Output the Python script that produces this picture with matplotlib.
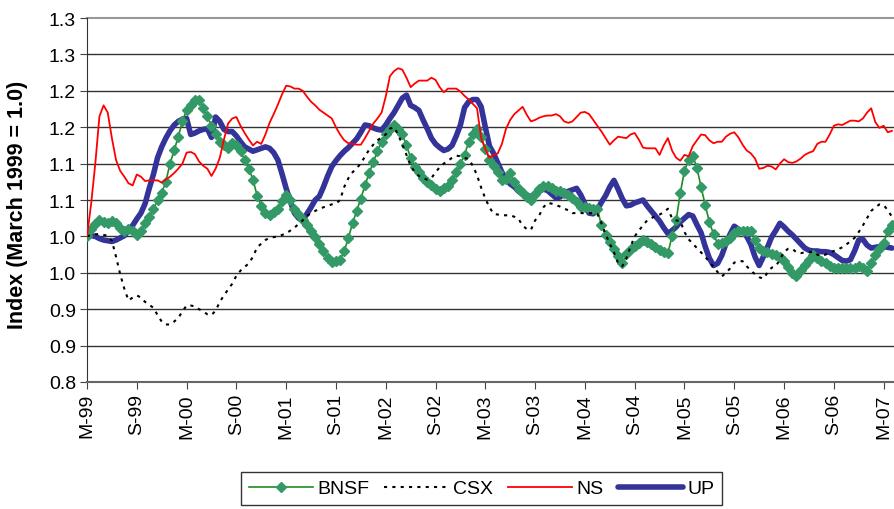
import numpy as np
import matplotlib
matplotlib.use("Agg")
import matplotlib.pyplot as plt
from matplotlib.ticker import FixedLocator, FixedFormatter

# x index = half-month steps, 0 = March 1999
bnsf = [1.000, 1.010, 1.017, 1.022, 1.020, 1.018, 1.021, 1.018, 1.012, 1.007,
        1.010, 1.008, 1.002, 1.008, 1.018, 1.027, 1.037, 1.050, 1.060, 1.075,
        1.100, 1.118, 1.137, 1.158, 1.174, 1.181, 1.187, 1.188, 1.176, 1.165,
        1.152, 1.141, 1.129, 1.125, 1.121, 1.128, 1.125, 1.117, 1.105, 1.093,
        1.078, 1.056, 1.042, 1.032, 1.030, 1.034, 1.038, 1.048, 1.057, 1.050,
        1.037, 1.030, 1.023, 1.015, 1.007, 0.999, 0.990, 0.980, 0.970, 0.965,
        0.966, 0.968, 0.980, 0.998, 1.018, 1.035, 1.052, 1.070, 1.087, 1.102,
        1.117, 1.130, 1.140, 1.148, 1.153, 1.147, 1.140, 1.125, 1.108, 1.096,
        1.088, 1.080, 1.075, 1.070, 1.065, 1.063, 1.066, 1.069, 1.077, 1.088,
        1.100, 1.112, 1.130, 1.140, 1.148, 1.137, 1.120, 1.105, 1.097, 1.089,
        1.078, 1.079, 1.087, 1.075, 1.065, 1.060, 1.054, 1.050, 1.058, 1.065,
        1.069, 1.069, 1.066, 1.063, 1.062, 1.060, 1.057, 1.053, 1.047, 1.041,
        1.040, 1.039, 1.038, 1.038, 1.015, 1.002, 0.992, 0.983, 0.973, 0.963,
        0.976, 0.983, 0.987, 0.991, 0.995, 0.992, 0.989, 0.985, 0.981, 0.978,
        0.977, 1.000, 1.022, 1.060, 1.090, 1.105, 1.111, 1.094, 1.068, 1.043,
        1.020, 1.003, 0.990, 0.991, 0.993, 0.998, 1.004, 1.007, 1.008, 1.008,
        1.008, 0.995, 0.984, 0.980, 0.978, 0.976, 0.974, 0.972, 0.966, 0.958,
        0.950, 0.946, 0.954, 0.961, 0.968, 0.974, 0.970, 0.966, 0.963, 0.960,
        0.957, 0.956, 0.956, 0.956, 0.956, 0.957, 0.959, 0.957, 0.953, 0.963,
        0.974, 0.983, 0.991, 1.007, 1.016]

csx = [1.000, 1.002, 1.003, 1.003, 1.002, 1.001, 0.994, 0.972, 0.948, 0.928,
       0.912, 0.916, 0.919, 0.916, 0.910, 0.906, 0.902, 0.892, 0.883, 0.879,
       0.879, 0.883, 0.888, 0.897, 0.905, 0.905, 0.904, 0.900, 0.897, 0.893,
       0.892, 0.898, 0.910, 0.919, 0.927, 0.935, 0.946, 0.953, 0.958, 0.963,
       0.972, 0.985, 0.990, 0.995, 0.998, 0.999, 1.000, 1.002, 1.004, 1.008,
       1.012, 1.017, 1.022, 1.028, 1.032, 1.035, 1.038, 1.040, 1.042, 1.044,
       1.045, 1.050, 1.068, 1.080, 1.088, 1.094, 1.100, 1.110, 1.119, 1.126,
       1.132, 1.136, 1.140, 1.148, 1.150, 1.140, 1.126, 1.112, 1.097, 1.088,
       1.083, 1.080, 1.078, 1.080, 1.088, 1.095, 1.100, 1.104, 1.108, 1.111,
       1.110, 1.108, 1.106, 1.097, 1.084, 1.067, 1.052, 1.040, 1.031, 1.030,
       1.029, 1.029, 1.029, 1.027, 1.024, 1.015, 1.010, 1.009, 1.022, 1.029,
       1.040, 1.046, 1.045, 1.043, 1.041, 1.038, 1.036, 1.032, 1.032, 1.032,
       1.032, 1.032, 1.032, 1.031, 1.018, 1.003, 0.990, 0.978, 0.963, 0.959,
       0.970, 0.986, 1.000, 1.008, 1.015, 1.022, 1.025, 1.028, 1.030, 1.033,
       1.038, 1.025, 1.022, 1.021, 1.006, 0.996, 0.990, 0.984, 0.978, 0.972,
       0.965, 0.958, 0.951, 0.945, 0.950, 0.956, 0.964, 0.966, 0.966, 0.959,
       0.953, 0.948, 0.944, 0.942, 0.950, 0.957, 0.959, 0.968, 0.979, 0.983,
       0.983, 0.978, 0.977, 0.978, 0.978, 0.979, 0.975, 0.973, 0.975, 0.978,
       0.980, 0.982, 0.985, 0.989, 0.993, 0.998, 1.006, 1.015, 1.025, 1.035,
       1.040, 1.044, 1.043, 1.036, 1.027]

ns = [1.000, 1.045, 1.100, 1.165, 1.180, 1.170, 1.135, 1.105, 1.090, 1.082,
      1.073, 1.070, 1.085, 1.082, 1.076, 1.077, 1.077, 1.077, 1.074, 1.078,
      1.082, 1.087, 1.093, 1.100, 1.115, 1.116, 1.113, 1.103, 1.097, 1.093,
      1.083, 1.093, 1.108, 1.133, 1.155, 1.162, 1.164, 1.152, 1.142, 1.133,
      1.125, 1.130, 1.127, 1.140, 1.156, 1.168, 1.181, 1.195, 1.207, 1.206,
      1.203, 1.203, 1.200, 1.192, 1.185, 1.180, 1.174, 1.170, 1.166, 1.162,
      1.150, 1.140, 1.132, 1.128, 1.127, 1.126, 1.126, 1.135, 1.145, 1.155,
      1.162, 1.170, 1.192, 1.220, 1.227, 1.231, 1.229, 1.218, 1.205, 1.210,
      1.214, 1.214, 1.214, 1.218, 1.215, 1.205, 1.198, 1.203, 1.203, 1.203,
      1.199, 1.193, 1.188, 1.182, 1.176, 1.135, 1.120, 1.108, 1.112, 1.114,
      1.127, 1.148, 1.160, 1.168, 1.173, 1.178, 1.167, 1.158, 1.160, 1.163,
      1.165, 1.166, 1.166, 1.168, 1.165, 1.158, 1.156, 1.158, 1.164, 1.170,
      1.171, 1.168, 1.160, 1.152, 1.144, 1.135, 1.126, 1.132, 1.137, 1.136,
      1.135, 1.140, 1.142, 1.133, 1.122, 1.121, 1.121, 1.121, 1.112, 1.125,
      1.135, 1.118, 1.108, 1.104, 1.112, 1.110, 1.124, 1.132, 1.140, 1.139,
      1.132, 1.128, 1.130, 1.130, 1.137, 1.141, 1.143, 1.136, 1.126, 1.118,
      1.114, 1.107, 1.093, 1.094, 1.097, 1.096, 1.092, 1.100, 1.106, 1.102,
      1.101, 1.103, 1.107, 1.112, 1.115, 1.117, 1.127, 1.130, 1.130, 1.140,
      1.152, 1.154, 1.153, 1.156, 1.159, 1.159, 1.158, 1.162, 1.170, 1.176,
      1.157, 1.149, 1.152, 1.143, 1.145]

up = [1.003, 1.001, 1.000, 0.997, 0.995, 0.994, 0.993, 0.995, 0.998, 1.001,
      1.008, 1.015, 1.024, 1.032, 1.045, 1.066, 1.085, 1.108, 1.123, 1.135,
      1.145, 1.153, 1.158, 1.161, 1.162, 1.140, 1.142, 1.145, 1.147, 1.148,
      1.136, 1.164, 1.158, 1.147, 1.144, 1.144, 1.138, 1.130, 1.123, 1.120,
      1.117, 1.119, 1.121, 1.123, 1.121, 1.115, 1.105, 1.086, 1.066, 1.048,
      1.032, 1.025, 1.022, 1.031, 1.040, 1.050, 1.055, 1.068, 1.083, 1.096,
      1.104, 1.111, 1.117, 1.122, 1.128, 1.134, 1.143, 1.153, 1.152, 1.149,
      1.147, 1.146, 1.153, 1.162, 1.170, 1.180, 1.190, 1.194, 1.180, 1.177,
      1.173, 1.160, 1.148, 1.135, 1.127, 1.122, 1.118, 1.120, 1.125, 1.138,
      1.153, 1.177, 1.185, 1.188, 1.188, 1.178, 1.150, 1.124, 1.114, 1.101,
      1.088, 1.079, 1.072, 1.068, 1.062, 1.058, 1.056, 1.055, 1.058, 1.062,
      1.065, 1.063, 1.058, 1.053, 1.054, 1.059, 1.062, 1.064, 1.066, 1.057,
      1.045, 1.032, 1.031, 1.037, 1.047, 1.056, 1.068, 1.077, 1.065, 1.052,
      1.042, 1.043, 1.046, 1.048, 1.050, 1.042, 1.035, 1.028, 1.021, 1.012,
      1.004, 1.008, 1.013, 1.020, 1.025, 1.030, 1.028, 1.016, 1.005, 0.986,
      0.970, 0.960, 0.963, 0.974, 0.990, 1.003, 1.014, 1.010, 1.006, 1.000,
      0.989, 0.972, 0.960, 0.972, 0.985, 0.999, 1.008, 1.018, 1.013, 1.007,
      1.002, 0.996, 0.990, 0.984, 0.981, 0.980, 0.980, 0.979, 0.979, 0.978,
      0.975, 0.971, 0.967, 0.966, 0.968, 0.980, 0.995, 0.996, 0.988, 0.984,
      0.985, 0.986, 0.986, 0.985, 0.984]

steps = list(range(len(ns)))

xtick_pos = list(range(0, 193, 12))
xtick_labels = ["M-99", "S-99", "M-00", "S-00", "M-01", "S-01", "M-02", "S-02",
                "M-03", "S-03", "M-04", "S-04", "M-05", "S-05", "M-06", "S-06",
                "M-07"]
ytick_values = [0.80, 0.85, 0.90, 0.95, 1.00, 1.05, 1.10, 1.15, 1.20, 1.25, 1.30]
ytick_labels = ["0.8", "0.9", "0.9", "1.0", "1.0", "1.1", "1.1", "1.2", "1.2",
                "1.3", "1.3"]

plt.rcParams['font.family'] = ['Liberation Sans', 'DejaVu Sans']

W, H = 894, 510
fig = plt.figure(figsize=(W / 100, H / 100), dpi=100)
left, right, top, bottom = 87 / W, 1.0, 1 - 19 / H, 1 - 383 / H
ax = fig.add_axes([left, bottom, right - left, top - bottom])

ax.set_xlim(0, 194.5)
ax.set_ylim(0.8, 1.3)

ax.yaxis.set_major_locator(FixedLocator(ytick_values))
ax.yaxis.set_major_formatter(FixedFormatter(ytick_labels))
ax.set_xticks(xtick_pos)
ax.set_xticklabels(xtick_labels, rotation=90)

for yv in ytick_values[1:-1]:
    ax.axhline(yv, color='#333333', lw=1.0, zorder=1)

l_up, = ax.plot(steps, up, color='#333399', lw=4.0, zorder=2,
                solid_joinstyle='round', solid_capstyle='round', label='UP')
l_bn, = ax.plot(steps, bnsf, color='#1E8C1E', lw=1.2, marker='D',
                markersize=5, markerfacecolor='#339966',
                markeredgecolor='#339966', zorder=3, label='BNSF')
l_csx, = ax.plot(steps, csx, color='black', lw=1.5, ls=(0, (1.5, 2.5)),
                 zorder=4, label='CSX')
l_ns, = ax.plot(steps, ns, color='#FF0000', lw=1.3, zorder=5, label='NS')

for s in ['top', 'right']:
    ax.spines[s].set_visible(False)
ax.axhline(1.3, color='#999999', lw=1.5, zorder=1, clip_on=False)
ax.spines['left'].set_color('#333333')
ax.spines['bottom'].set_color('#666666')
ax.spines['bottom'].set_linewidth(1.5)

ax.tick_params(axis='both', direction='out', length=5, color='#444444',
               labelsize=14, labelcolor='black')
ax.tick_params(axis='y', pad=3)
ax.tick_params(axis='x', pad=3)

fig.text(17.5 / W, 1 - 205 / H, 'Index (March 1999 = 1.0)', rotation=90,
         ha='center', va='center', fontsize=15.5, fontweight='bold')

leg = fig.legend(handles=[l_bn, l_csx, l_ns, l_up],
                 labels=['BNSF', 'CSX', 'NS', 'UP'],
                 loc='upper center', bbox_to_anchor=(481.5 / W, 1 - 473 / H),
                 ncol=4, fontsize=14, frameon=True, fancybox=False,
                 handlelength=3.3, handletextpad=0.25, columnspacing=0.75,
                 borderpad=0.4, borderaxespad=0.0, markerscale=1.0)
leg.get_frame().set_edgecolor('black')
leg.get_frame().set_linewidth(1.0)

fig.savefig('out.png', dpi=100)
